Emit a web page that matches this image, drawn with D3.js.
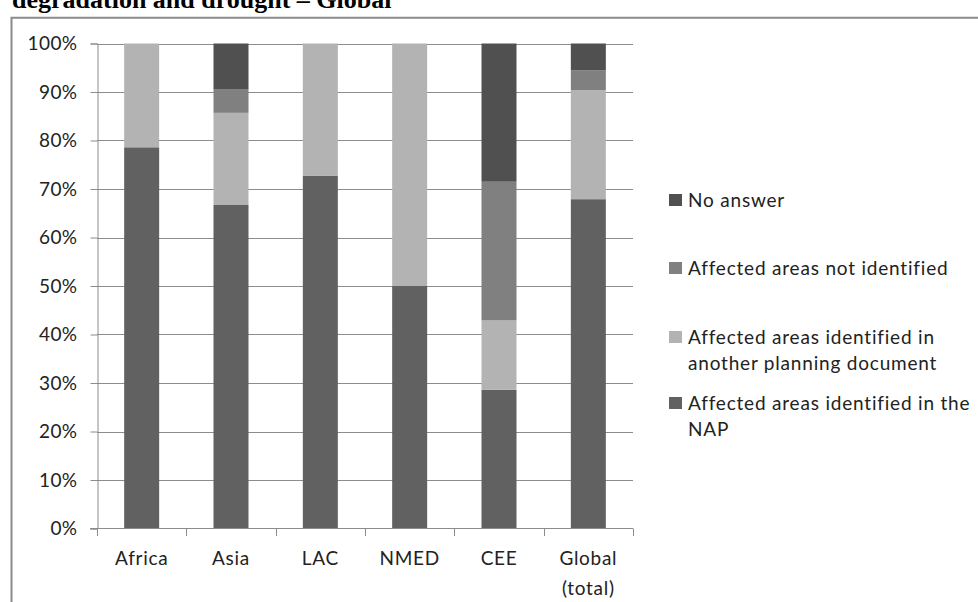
<!DOCTYPE html>
<html>
<head>
<meta charset="utf-8">
<script src="https://cdn.jsdelivr.net/npm/d3@7"></script>
<style>
  body { margin: 0; background: #fff; }
  svg { display: block; }
  text { font-family: Lato, "Open Sans", sans-serif; fill: #222; }
</style>
</head>
<body>
<svg id="chart" width="978" height="602"></svg>
<script>
// data (percent of countries)
var categories = ["Africa", "Asia", "LAC", "NMED", "CEE", "Global (total)"];
var xLabels = [["Africa"], ["Asia"], ["LAC"], ["NMED"], ["CEE"], ["Global", "(total)"]];
var napValues = [78.6, 66.7, 72.7, 50.0, 28.6, 67.9];
var otherDocValues = [21.4, 19.0, 27.3, 50.0, 14.3, 22.5];
var notIdentifiedValues = [0, 4.8, 0, 0, 28.6, 4.1];
var noAnswerValues = [0, 9.5, 0, 0, 28.5, 5.5];
var yTicks = [0, 10, 20, 30, 40, 50, 60, 70, 80, 90, 100];

var seriesKeys = ["nap", "other", "notid", "noans"];
var seriesNames = {
  nap: ["Affected areas identified in the", "NAP"],
  other: ["Affected areas identified in", "another planning document"],
  notid: ["Affected areas not identified"],
  noans: ["No answer"]
};
var colors = { nap: "#616161", other: "#b3b3b3", notid: "#808080", noans: "#505050" };

var rows = categories.map(function (c, i) {
  return { cat: c, nap: napValues[i], other: otherDocValues[i], notid: notIdentifiedValues[i], noans: noAnswerValues[i] };
});

var svg = d3.select("#chart");

// title, mostly cut off at the top of the picture
svg.append("text")
  .attr("x", 12)
  .attr("y", 8)
  .style("font-family", "'Liberation Serif', 'Times New Roman', serif")
  .style("font-weight", "bold")
  .style("font-size", "26px")
  .style("fill", "#000")
  .text("degradation and drought \u2013 Global");

// chart frame
svg.append("path")
  .attr("d", "M11.5,602V17.8H978")
  .attr("fill", "none")
  .attr("stroke", "#8a8a8a")
  .attr("stroke-width", 2);

var x = d3.scaleBand()
  .domain(categories)
  .range([97, 633]);

var y = d3.scaleLinear()
  .domain([0, 100])
  .range([528.5, 43.5]);

var barW = 35;

// gridlines
svg.append("g")
  .selectAll("line")
  .data(yTicks.filter(function (d) { return d > 0; }))
  .enter().append("line")
  .attr("x1", 97)
  .attr("x2", 633)
  .attr("y1", function (d) { return Math.round(y(d)) + 0.5; })
  .attr("y2", function (d) { return Math.round(y(d)) + 0.5; })
  .attr("stroke", "#8c8c8c")
  .attr("stroke-width", 1);

// y axis
var yAxis = svg.append("g")
  .attr("transform", "translate(97.5,0)")
  .call(d3.axisLeft(y).tickValues(yTicks).tickSize(7).tickPadding(13)
    .tickFormat(function (d) { return d + "%"; }));
yAxis.select(".domain").attr("stroke", "#8c8c8c");
yAxis.selectAll(".tick line").attr("stroke", "#8c8c8c");
yAxis.selectAll(".tick text")
  .style("font-size", "19px")
  .style("font-family", "Lato, sans-serif")
  .style("letter-spacing", "0.4px")
  .attr("fill", "#222");

// stacked bars
var stacked = d3.stack().keys(seriesKeys)(rows);

svg.append("g")
  .selectAll("g")
  .data(stacked)
  .enter().append("g")
  .attr("fill", function (d) { return colors[d.key]; })
  .selectAll("rect")
  .data(function (d) { return d; })
  .enter().append("rect")
  .attr("x", function (d) { return x(d.data.cat) + x.bandwidth() / 2 - barW / 2; })
  .attr("y", function (d) { return y(d[1]); })
  .attr("width", barW)
  .attr("height", function (d) { return y(d[0]) - y(d[1]); });

// x axis
svg.append("line")
  .attr("x1", 90).attr("x2", 633)
  .attr("y1", 528.5).attr("y2", 528.5)
  .attr("stroke", "#8c8c8c");

var bounds = categories.map(function (c) { return x(c); }).concat([x.range()[1]]);
svg.append("g")
  .selectAll("line")
  .data(bounds)
  .enter().append("line")
  .attr("x1", function (d) { return Math.round(d) + 0.5; })
  .attr("x2", function (d) { return Math.round(d) + 0.5; })
  .attr("y1", 528.5)
  .attr("y2", 536)
  .attr("stroke", "#8c8c8c");

var xl = svg.append("g")
  .selectAll("text")
  .data(xLabels)
  .enter().append("text")
  .attr("x", function (d, i) { return x(categories[i]) + x.bandwidth() / 2; })
  .attr("y", 558)
  .attr("text-anchor", "middle")
  .style("letter-spacing", "0.7px")
  .style("font-size", "19px");
xl.selectAll("tspan")
  .data(function (d) { return d; })
  .enter().append("tspan")
  .attr("x", function () { return d3.select(this.parentNode).attr("x"); })
  .attr("dy", function (d, i) { return i === 0 ? "0.35em" : "30px"; })
  .text(function (d) { return d; });

// legend
var legendY = { noans: 200, notid: 268, other: 337, nap: 403 };
var legend = svg.append("g")
  .selectAll("g")
  .data(["noans", "notid", "other", "nap"])
  .enter().append("g")
  .attr("transform", function (d) { return "translate(669," + legendY[d] + ")"; });

legend.append("rect")
  .attr("x", 0)
  .attr("y", -6)
  .attr("width", 13)
  .attr("height", 12)
  .attr("fill", function (d) { return colors[d]; });

legend.append("text")
  .attr("x", 19)
  .style("font-size", "19px")
  .style("letter-spacing", "0.8px")
  .selectAll("tspan")
  .data(function (d) { return seriesNames[d]; })
  .enter().append("tspan")
  .attr("x", 19)
  .attr("y", function (d, i) { return i * 26.5; })
  .attr("dy", "0.35em")
  .text(function (d) { return d; });
</script>
</body>
</html>
